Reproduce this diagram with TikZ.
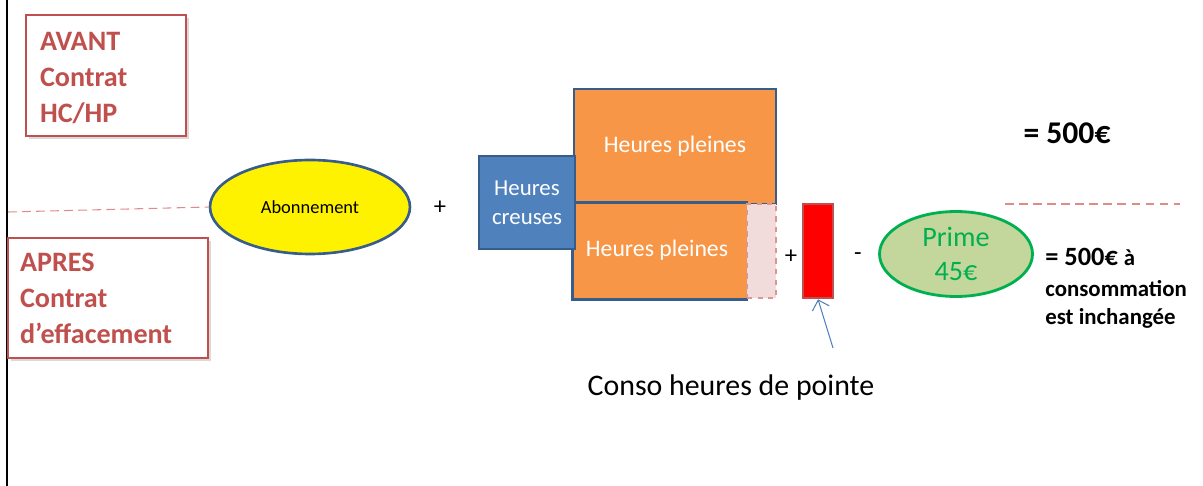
\documentclass[tikz,border=0pt]{standalone}
\usepackage{fontspec}
\setmainfont{Carlito}
\usepackage{xcolor}
\usepackage{tikz}
\usetikzlibrary{positioning,arrows.meta,shapes.geometric,shadows}

\definecolor{boxred}{HTML}{C0504D}
\definecolor{hpblue}{HTML}{385D8A}
\definecolor{hcblue}{HTML}{4F81BD}
\definecolor{hporange}{HTML}{F79646}
\definecolor{peakpink}{HTML}{F2DCDB}
\definecolor{peakline}{HTML}{D99694}
\definecolor{primegreen}{HTML}{00B050}
\definecolor{primefill}{HTML}{C3D69B}
\definecolor{splitred}{HTML}{E08A8A}

\begin{document}
\begin{tikzpicture}[
  x=0.02cm, y=-0.02cm,
  labelbox/.style={draw=boxred, line width=1.6pt, fill=white, align=left,
                   text=boxred, font=\fontsize{16}{20.5}\selectfont\bfseries,
                   drop shadow={opacity=0.3, shadow xshift=1.5pt, shadow yshift=-1.5pt}},
  hpbox/.style={fill=hporange, draw=hpblue, line width=1.5pt, text=white,
                align=center, font=\fontsize{13.5}{16.5}\selectfont},
  edge/.style={draw=hpblue, line width=1.5pt},
  split/.style={draw=splitred, line width=0.6pt, dash pattern=on 5pt off 3pt},
  op/.style={font=\fontsize{14}{16}\selectfont},
]
\useasboundingbox (0,0) rectangle (1203,486);
\draw[line width=1.2pt] (7,0) -- (7,486);

% before / after
\node[labelbox, minimum width=3.2cm, minimum height=2.42cm,
      text width=2.64cm] (avant) at (106,75.5) {\\[-7pt]AVANT\\Contrat\\HC/HP};
\node[labelbox, minimum width=4cm, minimum height=2.4cm,
      text width=3.52cm] (apres) at (108,298) {APRES\\Contrat\\d'effacement};

% subscription
\node[ellipse, fill=yellow, draw=hpblue, line width=1.5pt, inner sep=0pt,
      minimum width=4cm, minimum height=1.88cm,
      font=\fontsize{10.5}{12}\selectfont] (abo) at (310,207) {Abonnement};
\coordinate (splitL) at (8,212);
\draw[split] (splitL) -- (abo.west);
\node[op] (plus1) at (440,208) {+};

% off-peak and peak hours
\node[hpbox, minimum width=4.04cm, minimum height=2.3cm] (hpTop) at (675,146.5) {Heures pleines};
\node[hpbox, draw=none, minimum width=3.46cm, minimum height=1.88cm] (hpLow) at (660.5,251) {};
\draw[edge] (hpLow.north east) -- (hpLow.north west) -- (hpLow.south west) -- (hpLow.south east);
\draw[edge, dashed] (hpLow.north east) -- (hpLow.south east);
\node[text=white, font=\fontsize{13.5}{16.5}\selectfont] (hpLowTxt) at (657,250) {Heures pleines};
\node[hpbox, fill=hcblue, minimum width=1.92cm, minimum height=1.86cm,
      font=\fontsize{13}{16.5}\selectfont] (hc) at (527,202.5) {Heures\\creuses};
\node[fill=peakpink, draw=peakline, dashed, line width=1.5pt, inner sep=0pt,
      minimum width=0.58cm, minimum height=1.88cm] (effac) at (761.5,251) {};

% peak consumption
\node[op] (plus2) at (791,257) {+};
\node[fill=red, draw=boxred, line width=1.5pt, inner sep=0pt,
      minimum width=0.6cm, minimum height=1.88cm] (pointe) at (818,251) {};
\node[op] (minus) at (858,257) {-};
\coordinate (ptr) at (833,348);
\draw[-{Straight Barb[length=5pt]}, hcblue, line width=0.6pt] (ptr) -- (pointe.south);
\node[font=\fontsize{17}{20}\selectfont] (conso) at (731,388) {Conso heures de pointe};

% bonus
\node[ellipse, fill=primefill, draw=primegreen, line width=1.6pt, inner sep=0pt,
      minimum width=3.06cm, minimum height=1.7cm, text=primegreen, align=center,
      font=\fontsize{16}{19.4}\selectfont] (prime) at (956,254) {Prime\\45€};

% totals
\node[font=\fontsize{18}{21}\selectfont\bfseries] (totAvant) at (1067,133) {= 500€};
\coordinate (splitA) at (1005,204);
\coordinate (splitB) at (1180,204);
\draw[split] (splitA) -- (splitB);
\node[anchor=west, inner sep=0pt, font=\fontsize{15}{18}\selectfont\bfseries]
  (totApres) at (1045,257) {= 500€ {\fontsize{13}{15}\selectfont à}};
\node[anchor=west, inner sep=0pt, font=\fontsize{13}{15}\selectfont\bfseries]
  (totL2) at (1045,289) {consommation};
\node[anchor=west, inner sep=0pt, font=\fontsize{13}{15}\selectfont\bfseries]
  (totL3) at (1045,318) {est inchangée};
\end{tikzpicture}
\end{document}
